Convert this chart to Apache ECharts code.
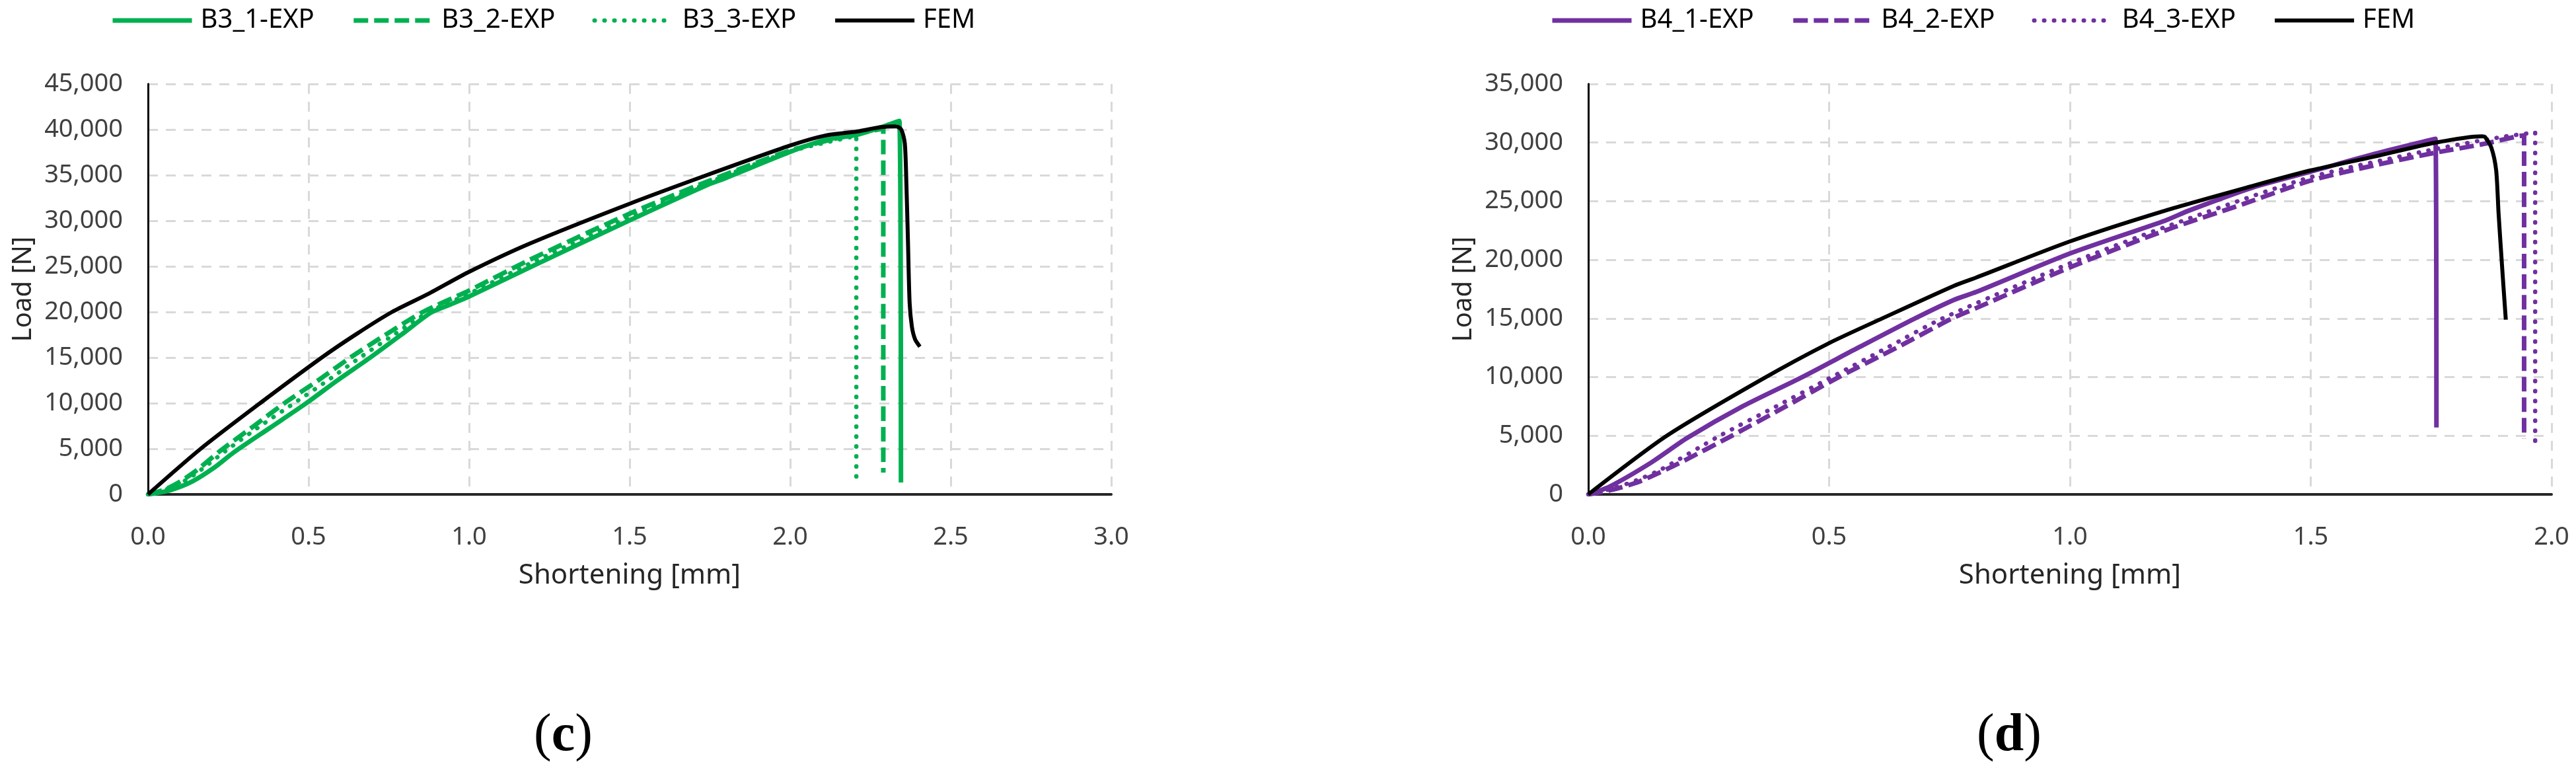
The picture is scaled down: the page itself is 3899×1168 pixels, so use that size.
<!DOCTYPE html>
<html>
<head>
<meta charset="utf-8">
<script src="https://cdn.jsdelivr.net/npm/echarts@6/dist/echarts.min.js"></script>
<style>
  html, body { margin: 0; padding: 0; background: #fff; }
  #chart { width: 3899px; height: 1168px; }
</style>
</head>
<body>
<div id="chart"></div>
<script>
// (c) B3 specimens, [shortening mm, load N]
var b3_1 = [[0,0],[0.068,450],[0.137,1400],[0.205,2900],[0.267,4600],[0.38,7300],[0.493,10000],[0.59,12500],[0.692,15000],[0.8,17800],[0.88,19900],[0.94,20800],[1.0,21700],[1.189,24880],[1.5,30050],[1.74,33900],[1.8,34700],[2.0,37550],[2.109,38860],[2.21,39450],[2.3,40450],[2.34,40950],[2.345,1300]];
var b3_2 = [[0,0],[0.05,500],[0.1,1400],[0.15,2600],[0.226,4800],[0.33,7500],[0.425,10000],[0.53,12500],[0.63,15000],[0.74,17500],[0.856,20000],[1.0,22350],[1.189,25720],[1.5,30780],[1.74,34270],[2.0,37700],[2.2,39500],[2.29,40100],[2.29,2400]];
var b3_3 = [[0,0],[0.05,450],[0.1,1200],[0.15,2300],[0.245,4850],[0.35,7500],[0.455,10000],[0.56,12500],[0.66,15000],[0.77,17600],[0.875,20000],[1.0,22000],[1.189,25300],[1.5,30400],[1.74,34100],[2.0,37600],[2.206,39300],[2.206,1800]];
var b3_fem = [[0,0],[0.164,5000],[0.349,10000],[0.541,15000],[0.65,17600],[0.76,20000],[0.874,22000],[1.0,24400],[1.189,27500],[1.5,31870],[1.74,35000],[2.0,38250],[2.109,39340],[2.21,39800],[2.28,40250],[2.33,40350],[2.346,40000],[2.357,38500],[2.362,34000],[2.367,27500],[2.372,21000],[2.379,18400],[2.389,17000],[2.404,16200]];

// (d) B4 specimens
var b4_1 = [[0,0],[0.044,660],[0.13,2700],[0.205,4800],[0.32,7500],[0.444,10000],[0.56,12500],[0.678,15000],[0.76,16600],[0.806,17270],[1.0,20540],[1.198,23350],[1.247,24200],[1.379,26160],[1.5,27520],[1.632,29030],[1.759,30320],[1.761,5700]];
var b4_2 = [[0,0],[0.05,400],[0.1,1000],[0.15,1900],[0.2,2900],[0.298,5000],[0.41,7500],[0.52,10000],[0.64,12500],[0.755,15000],[0.806,15900],[1.0,19360],[1.198,22510],[1.36,24760],[1.5,26760],[1.632,28060],[1.759,29140],[1.86,29890],[1.93,30540],[1.943,30600],[1.943,4750]];
var b4_3 = [[0,0],[0.05,500],[0.1,1200],[0.15,2100],[0.273,5000],[0.39,7500],[0.505,10000],[0.62,12500],[0.735,15000],[1.0,19700],[1.198,22800],[1.5,27050],[1.759,29450],[1.9,30500],[1.966,30860],[1.966,4530]];
var b4_fem = [[0,0],[0.163,5000],[0.36,9800],[0.5,12900],[0.61,15000],[0.76,17800],[0.806,18500],[1.0,21570],[1.198,24200],[1.379,26300],[1.5,27630],[1.632,28810],[1.759,30000],[1.855,30540],[1.862,30470],[1.875,29570],[1.885,27630],[1.89,23960],[1.898,19000],[1.905,14900]];

var namesC = ['B3_1-EXP', 'B3_2-EXP', 'B3_3-EXP', 'FEM'];
var namesD = ['B4_1-EXP', 'B4_2-EXP', 'B4_3-EXP', 'FEM '];

var green = '#00B050';
var purple = '#7030A0';
var FONT = "'Noto Sans', 'Open Sans', sans-serif";

var solid = { type: 'solid', width: 7, join: 'round' };
var dashed = { type: [22, 9], width: 7, join: 'round' };
var dotted = { type: [0.5, 14.5], width: 6.5, cap: 'round', join: 'round' };
var femLine = { type: 'solid', width: 6, join: 'round' };

function line(name, data, color, style, gi) {
  return {
    name: name,
    type: 'line',
    xAxisIndex: gi,
    yAxisIndex: gi,
    data: data,
    symbol: 'none',
    showSymbol: false,
    smooth: 0.25,
    animation: false,
    lineStyle: Object.assign({ color: color }, style),
    itemStyle: { color: color }
  };
}

function xAx(gi, max) {
  return {
    type: 'value', gridIndex: gi, min: 0, max: max, interval: 0.5,
    name: 'Shortening [mm]', nameLocation: 'middle', nameGap: 102,
    nameTextStyle: { fontFamily: FONT, fontSize: 42, color: '#262626' },
    axisLine: { show: true, onZero: false, lineStyle: { color: '#262626', width: 4 } },
    axisTick: { show: false },
    axisLabel: { fontFamily: FONT, fontSize: 38, color: '#404040', margin: 46,
      formatter: function (v) { return v.toFixed(1); } },
    splitLine: { show: true, lineStyle: { color: '#D9D9D9', width: 3, type: [15, 12] } }
  };
}

function yAx(gi, max) {
  return {
    type: 'value', gridIndex: gi, min: 0, max: max, interval: 5000,
    name: 'Load [N]', nameLocation: 'middle', nameGap: 168,
    nameTextStyle: { fontFamily: FONT, fontSize: 40, color: '#262626' },
    axisLine: { show: true, lineStyle: { color: '#000', width: 3 } },
    axisTick: { show: false },
    axisLabel: { fontFamily: FONT, fontSize: 38, color: '#404040', margin: 38 },
    splitLine: { show: true, lineStyle: { color: '#D9D9D9', width: 3, type: [15, 12] } }
  };
}

function legend(left, data) {
  return {
    left: left, top: 6, orient: 'horizontal',
    data: data,
    itemWidth: 120, itemHeight: 14, itemGap: 56,
    itemStyle: { color: 'rgba(0,0,0,0)', borderWidth: 0 },
    lineStyle: { width: 'inherit', type: 'inherit', cap: 'inherit' },
    textStyle: { fontFamily: FONT, fontSize: 40, color: '#000', padding: [0, 0, 0, 8] }
  };
}

var chart = echarts.init(document.getElementById('chart'), null, { renderer: 'canvas' });
chart.setOption({
  backgroundColor: '#fff',
  animation: false,
  legend: [legend(162, namesC), legend(2341, namesD)],
  grid: [
    { left: 224, top: 127, width: 1458, height: 621 },
    { left: 2404, top: 127, width: 1458, height: 621 }
  ],
  xAxis: [xAx(0, 3), xAx(1, 2)],
  yAxis: [yAx(0, 45000), yAx(1, 35000)],
  series: [
    line(namesC[0], b3_1, green, solid, 0),
    line(namesC[1], b3_2, green, dashed, 0),
    line(namesC[2], b3_3, green, dotted, 0),
    line(namesC[3], b3_fem, '#000', femLine, 0),
    line(namesD[0], b4_1, purple, solid, 1),
    line(namesD[1], b4_2, purple, dashed, 1),
    line(namesD[2], b4_3, purple, dotted, 1),
    line(namesD[3], b4_fem, '#000', femLine, 1)
  ],
  graphic: [
    { type: 'text', left: 808, top: 1074,
      style: { text: '{p|(}{b|c}{p|)}', rich: {
        p: { fontFamily: "'Liberation Serif', serif", fontSize: 80, fill: '#000' },
        b: { fontFamily: "'Liberation Serif', serif", fontSize: 80, fontWeight: 'bold', fill: '#000' } } } },
    { type: 'text', left: 2992, top: 1074,
      style: { text: '{p|(}{b|d}{p|)}', rich: {
        p: { fontFamily: "'Liberation Serif', serif", fontSize: 80, fill: '#000' },
        b: { fontFamily: "'Liberation Serif', serif", fontSize: 80, fontWeight: 'bold', fill: '#000' } } } }
  ]
});
</script>
</body>
</html>
